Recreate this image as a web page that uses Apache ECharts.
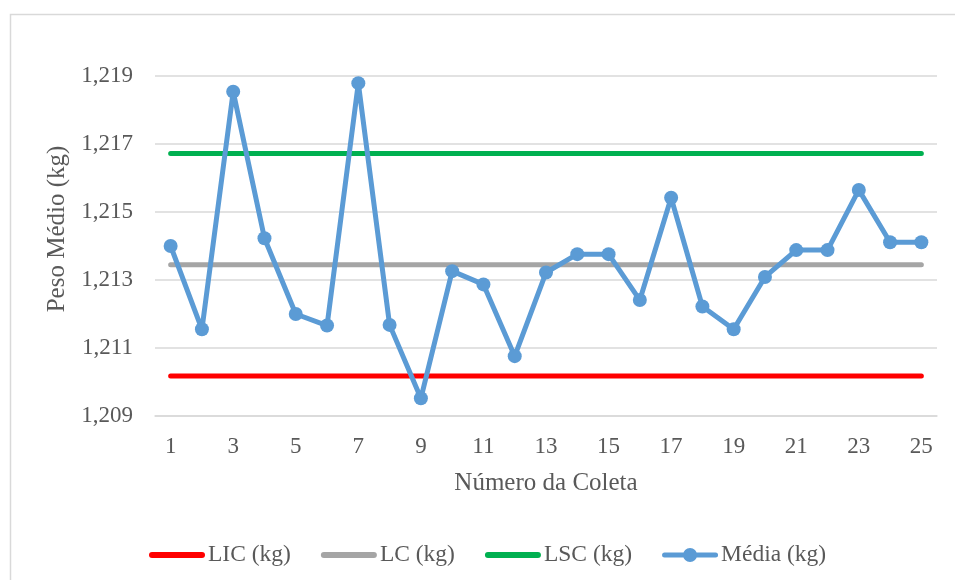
<!DOCTYPE html>
<html>
<head>
<meta charset="utf-8">
<script src="https://cdn.jsdelivr.net/npm/echarts@6/dist/echarts.min.js"></script>
<style>
  html, body { margin: 0; padding: 0; background: #ffffff; }
  #chart { width: 955px; height: 580px; }
</style>
</head>
<body>
<div id="chart"></div>
<script>
// Número da coleta (amostras 1 a 25)
var categories = ['1','2','3','4','5','6','7','8','9','10','11','12','13',
                  '14','15','16','17','18','19','20','21','22','23','24','25'];

// Peso médio de cada coleta (kg)
var media = [1.21400, 1.21155, 1.21854, 1.21423, 1.21200, 1.21166, 1.21879,
             1.21168, 1.20952, 1.21326, 1.21287, 1.21076, 1.21322, 1.21376,
             1.21376, 1.21241, 1.21542, 1.21222, 1.21155, 1.21309, 1.21388,
             1.21388, 1.21565, 1.21411, 1.21411];

// Limites de controle (kg)
var lic = [1.21018, 1.21018, 1.21018, 1.21018, 1.21018, 1.21018, 1.21018,
           1.21018, 1.21018, 1.21018, 1.21018, 1.21018, 1.21018, 1.21018,
           1.21018, 1.21018, 1.21018, 1.21018, 1.21018, 1.21018, 1.21018,
           1.21018, 1.21018, 1.21018, 1.21018];
var lc  = [1.21345, 1.21345, 1.21345, 1.21345, 1.21345, 1.21345, 1.21345,
           1.21345, 1.21345, 1.21345, 1.21345, 1.21345, 1.21345, 1.21345,
           1.21345, 1.21345, 1.21345, 1.21345, 1.21345, 1.21345, 1.21345,
           1.21345, 1.21345, 1.21345, 1.21345];
var lsc = [1.21672, 1.21672, 1.21672, 1.21672, 1.21672, 1.21672, 1.21672,
           1.21672, 1.21672, 1.21672, 1.21672, 1.21672, 1.21672, 1.21672,
           1.21672, 1.21672, 1.21672, 1.21672, 1.21672, 1.21672, 1.21672,
           1.21672, 1.21672, 1.21672, 1.21672];

// Eixo Y
var yMin = 1.209, yMax = 1.220, yStep = 0.002;

var FONT = '"Liberation Serif", "Times New Roman", serif';
var TXT = '#595959';

// Ícones da legenda: barra de pontas arredondadas e barra com marcador
var ICON_BAR = 'path://M3,0 L53,0 A3,3 0 0 1 53,6 L3,6 A3,3 0 0 1 3,0 Z';
var ICON_MARK = 'path://M2.5,4 L53.5,4 A2.5,2.5 0 0 1 53.5,9 L2.5,9 A2.5,2.5 0 0 1 2.5,4 Z ' +
                'M35,6.5 A7,7 0 1 1 21,6.5 A7,7 0 1 1 35,6.5 Z';

var chart = echarts.init(document.getElementById('chart'), null, { renderer: 'canvas' });

function limitSeries(name, data, color) {
  return {
    name: name,
    type: 'line',
    data: data,
    symbol: 'none',
    showSymbol: false,
    silent: true,
    lineStyle: { color: color, width: 5, cap: 'round' },
    itemStyle: { color: color },
    z: 2
  };
}

chart.setOption({
  animation: false,
  backgroundColor: '#ffffff',
  textStyle: { fontFamily: FONT, color: TXT },
  graphic: [{
    type: 'rect',
    left: 8, top: 12,
    shape: { width: 1000, height: 1000 },
    style: { fill: 'none', stroke: '#d9d9d9', lineWidth: 1.5 },
    silent: true,
    z: -1
  }],
  grid: { left: 155, right: 18, top: 42, bottom: 164, containLabel: false },
  legend: {
    left: 144,
    top: 538,
    itemWidth: 56,
    itemHeight: 14,
    itemGap: 30,
    symbolKeepAspect: true,
    textStyle: { fontFamily: FONT, fontSize: 23.5, color: TXT, padding: [0, 0, 0, -2] },
    data: [
      { name: 'LIC (kg)', icon: ICON_BAR },
      { name: 'LC (kg)', icon: ICON_BAR },
      { name: 'LSC (kg)', icon: ICON_BAR },
      { name: 'Média (kg)', icon: ICON_MARK }
    ]
  },
  xAxis: {
    type: 'category',
    data: categories,
    boundaryGap: true,
    name: 'Número da Coleta',
    nameLocation: 'middle',
    nameGap: 55,
    nameTextStyle: { fontFamily: FONT, fontSize: 25, color: TXT },
    axisLine: { show: true, lineStyle: { color: '#d9d9d9', width: 1.5 } },
    axisTick: { show: false },
    axisLabel: { interval: 1, margin: 19, fontFamily: FONT, fontSize: 23, color: TXT },
    splitLine: { show: false }
  },
  yAxis: {
    type: 'value',
    min: yMin,
    max: yMax,
    interval: yStep,
    name: 'Peso Médio (kg)',
    nameLocation: 'middle',
    nameGap: 84,
    nameTextStyle: { fontFamily: FONT, fontSize: 25, color: TXT },
    axisLine: { show: false },
    axisTick: { show: false },
    axisLabel: {
      margin: 22,
      fontFamily: FONT, fontSize: 23, color: TXT,
      showMaxLabel: false,
      formatter: function (v) { return v.toFixed(3).replace('.', ','); }
    },
    splitLine: { show: true, showMaxLine: false, lineStyle: { color: '#d9d9d9', width: 1.5 } }
  },
  series: [
    limitSeries('LIC (kg)', lic, '#ff0000'),
    limitSeries('LC (kg)', lc, '#a5a5a5'),
    limitSeries('LSC (kg)', lsc, '#00b050'),
    {
      name: 'Média (kg)',
      type: 'line',
      data: media,
      symbol: 'circle',
      symbolSize: 14,
      silent: true,
      lineStyle: { color: '#5b9bd5', width: 5, cap: 'round', join: 'round' },
      itemStyle: { color: '#5b9bd5' },
      z: 3
    }
  ]
});
</script>
</body>
</html>
